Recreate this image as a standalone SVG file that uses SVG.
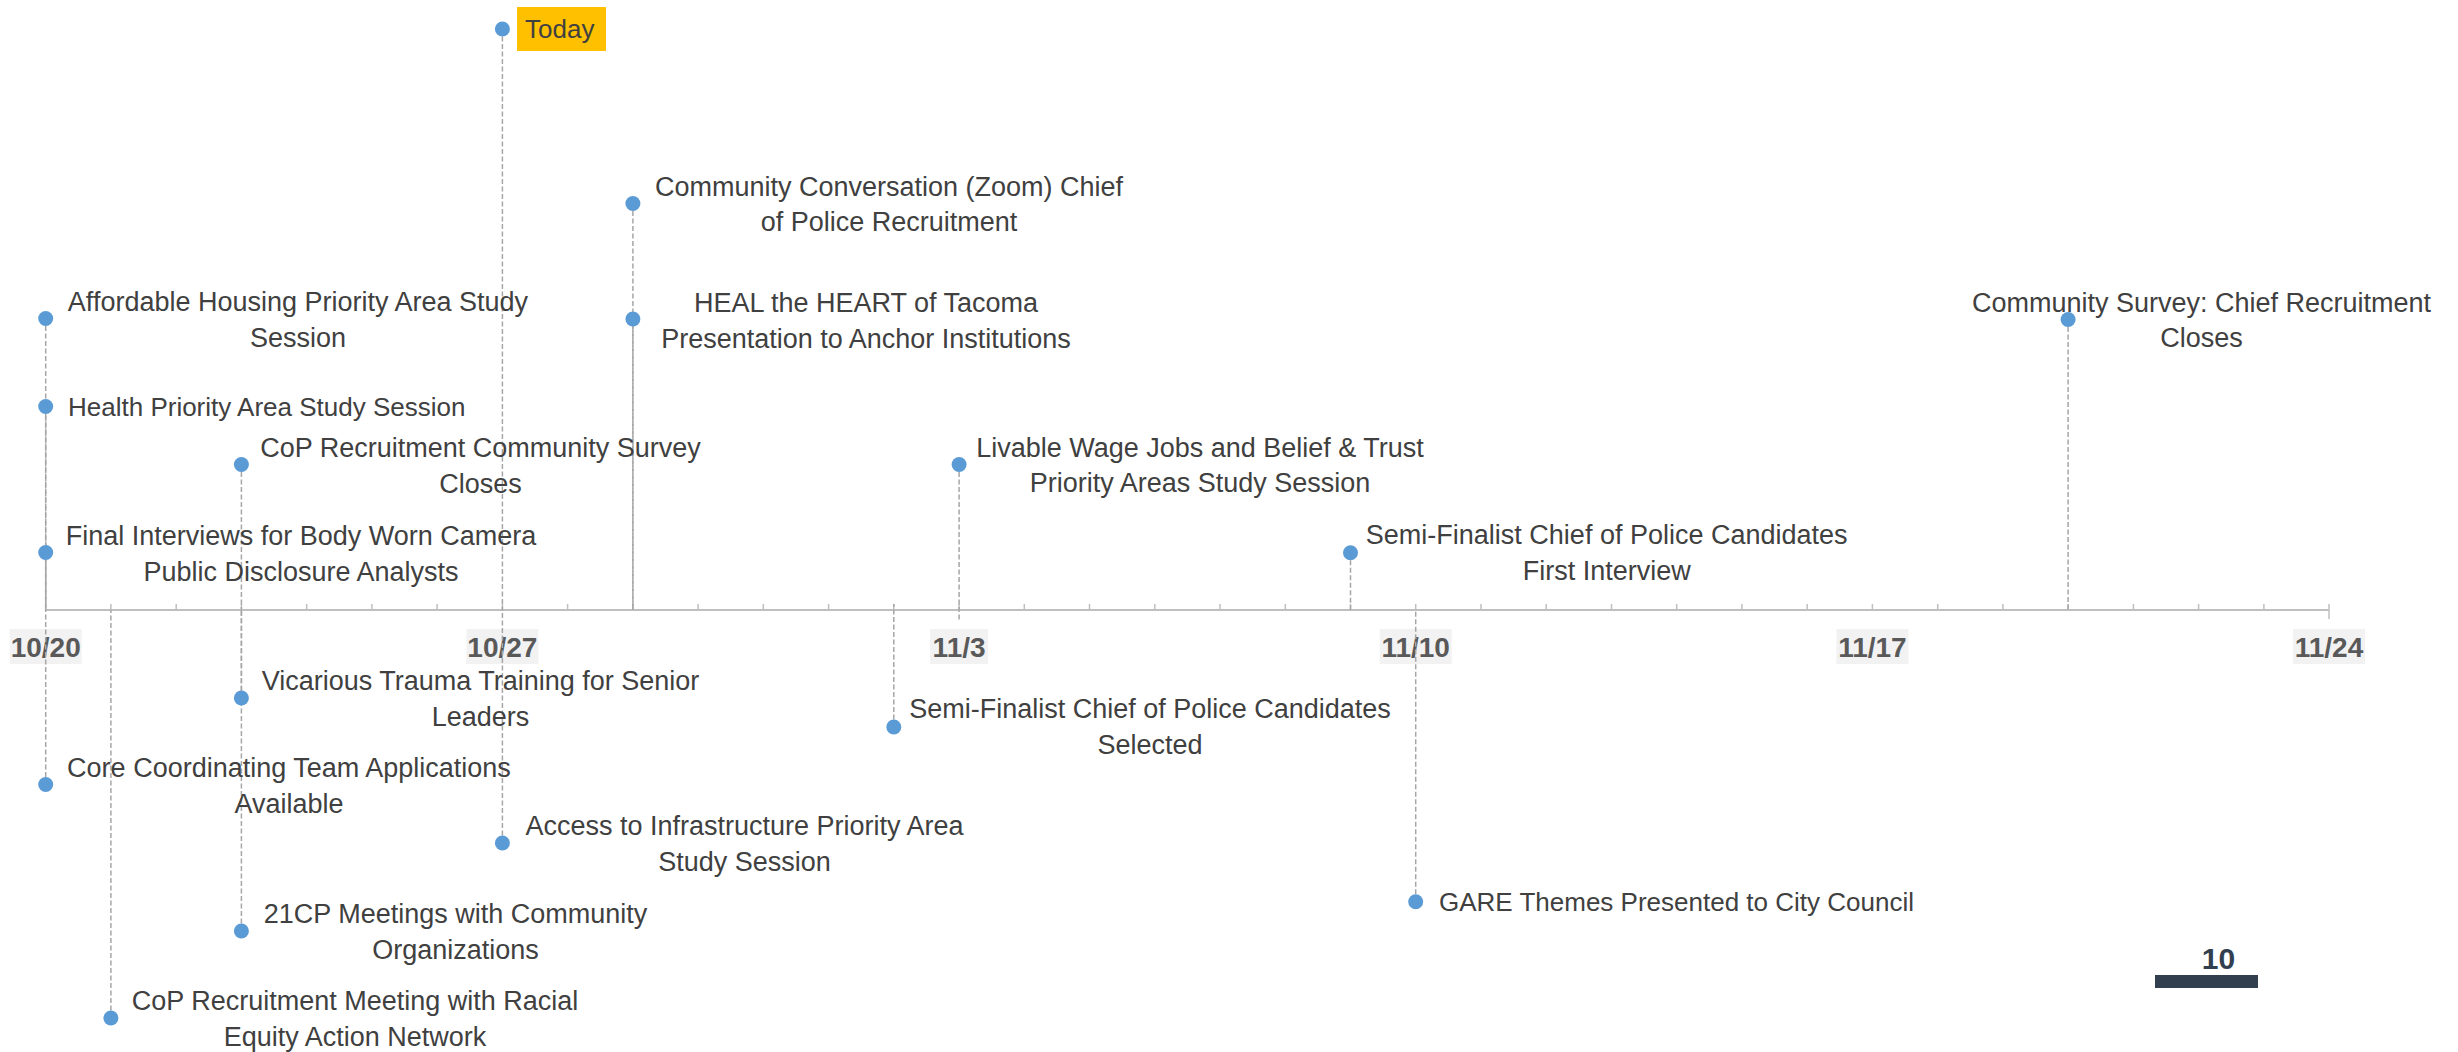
<svg xmlns="http://www.w3.org/2000/svg" width="2458" height="1052" viewBox="0 0 2458 1052">
<style>
  .lbl { font-family: "Liberation Sans", Arial, sans-serif; font-size: 27px; fill: #404040; }
  .sm { font-size: 26px; }
  .mid { text-anchor: middle; }
  .date { font-family: "Liberation Sans", Arial, sans-serif; font-size: 28px; font-weight: bold; fill: #595959; text-anchor: middle; }
  .datebg { fill: #F2F2F2; }
  .dot { fill: #5B9BD5; }
  .lead { stroke: #A6A6A6; stroke-width: 1.5; stroke-dasharray: 5 2.5; fill: none; }
  .axis { stroke: #BFBFBF; stroke-width: 2; fill: none; }
  .tick { stroke: #BFBFBF; stroke-width: 1.5; }
</style>
<rect width="2458" height="1052" fill="#FFFFFF"/>

<g id="axis">
  <line class="axis" x1="45.7" y1="610" x2="2329" y2="610"/>
  <g class="tick">
    <line x1="110.9" y1="604" x2="110.9" y2="610"/>
    <line x1="176.2" y1="604" x2="176.2" y2="610"/>
    <line x1="241.4" y1="604" x2="241.4" y2="610"/>
    <line x1="306.7" y1="604" x2="306.7" y2="610"/>
    <line x1="371.9" y1="604" x2="371.9" y2="610"/>
    <line x1="437.1" y1="604" x2="437.1" y2="610"/>
    <line x1="502.4" y1="604" x2="502.4" y2="610"/>
    <line x1="567.6" y1="604" x2="567.6" y2="610"/>
    <line x1="632.9" y1="604" x2="632.9" y2="610"/>
    <line x1="698.1" y1="604" x2="698.1" y2="610"/>
    <line x1="763.3" y1="604" x2="763.3" y2="610"/>
    <line x1="828.6" y1="604" x2="828.6" y2="610"/>
    <line x1="893.8" y1="604" x2="893.8" y2="610"/>
    <line x1="959.1" y1="604" x2="959.1" y2="610"/>
    <line x1="1024.3" y1="604" x2="1024.3" y2="610"/>
    <line x1="1089.5" y1="604" x2="1089.5" y2="610"/>
    <line x1="1154.8" y1="604" x2="1154.8" y2="610"/>
    <line x1="1220.0" y1="604" x2="1220.0" y2="610"/>
    <line x1="1285.3" y1="604" x2="1285.3" y2="610"/>
    <line x1="1350.5" y1="604" x2="1350.5" y2="610"/>
    <line x1="1415.7" y1="604" x2="1415.7" y2="610"/>
    <line x1="1481.0" y1="604" x2="1481.0" y2="610"/>
    <line x1="1546.2" y1="604" x2="1546.2" y2="610"/>
    <line x1="1611.5" y1="604" x2="1611.5" y2="610"/>
    <line x1="1676.7" y1="604" x2="1676.7" y2="610"/>
    <line x1="1741.9" y1="604" x2="1741.9" y2="610"/>
    <line x1="1807.2" y1="604" x2="1807.2" y2="610"/>
    <line x1="1872.4" y1="604" x2="1872.4" y2="610"/>
    <line x1="1937.7" y1="604" x2="1937.7" y2="610"/>
    <line x1="2002.9" y1="604" x2="2002.9" y2="610"/>
    <line x1="2068.1" y1="604" x2="2068.1" y2="610"/>
    <line x1="2133.4" y1="604" x2="2133.4" y2="610"/>
    <line x1="2198.6" y1="604" x2="2198.6" y2="610"/>
    <line x1="2263.9" y1="604" x2="2263.9" y2="610"/>
    <line x1="2329" y1="604" x2="2329" y2="619"/>
  </g>
  <g id="date-labels">
    <rect class="datebg" x="9.7" y="629" width="72" height="35"/>
    <text class="date" x="45.7" y="657">10/20</text>
    <rect class="datebg" x="466.4" y="629" width="72" height="35"/>
    <text class="date" x="502.4" y="657">10/27</text>
    <rect class="datebg" x="930.1" y="629" width="58" height="35"/>
    <text class="date" x="959.1" y="657">11/3</text>
    <rect class="datebg" x="1379.7" y="629" width="72" height="35"/>
    <text class="date" x="1415.7" y="657">11/10</text>
    <rect class="datebg" x="1836.4" y="629" width="72" height="35"/>
    <text class="date" x="1872.4" y="657">11/17</text>
    <rect class="datebg" x="2293" y="629" width="72" height="35"/>
    <text class="date" x="2329" y="657">11/24</text>
  </g>
</g>

<g id="connectors">
  <line class="lead" x1="45.7" y1="318.5" x2="45.7" y2="610"/>
  <line class="lead" x1="45.7" y1="406.5" x2="45.7" y2="610"/>
  <line class="lead" x1="45.7" y1="552.5" x2="45.7" y2="610"/>
  <line class="lead" x1="45.7" y1="784.5" x2="45.7" y2="610"/>
  <line class="lead" x1="110.9" y1="1018" x2="110.9" y2="610"/>
  <line class="lead" x1="241.4" y1="464.5" x2="241.4" y2="610"/>
  <line class="lead" x1="241.4" y1="698" x2="241.4" y2="610"/>
  <line class="lead" x1="241.4" y1="931" x2="241.4" y2="610"/>
  <line class="lead" x1="502.4" y1="29" x2="502.4" y2="610"/>
  <line class="lead" x1="502.4" y1="843" x2="502.4" y2="610"/>
  <line class="lead" x1="632.9" y1="203.5" x2="632.9" y2="610"/>
  <line class="lead" x1="632.9" y1="319" x2="632.9" y2="610"/>
  <line class="lead" x1="893.8" y1="727" x2="893.8" y2="604"/>
  <line class="lead" x1="959.1" y1="464.5" x2="959.1" y2="620"/>
  <line class="lead" x1="1350.5" y1="552.7" x2="1350.5" y2="610"/>
  <line class="lead" x1="1415.7" y1="901.7" x2="1415.7" y2="610"/>
  <line class="lead" x1="2068.1" y1="319.5" x2="2068.1" y2="610"/>
</g>

<g id="ev-affordable-housing">
  <circle class="dot" cx="45.7" cy="318.5" r="7.5"/>
  <text class="lbl mid" x="298" y="311">Affordable Housing Priority Area Study</text>
  <text class="lbl mid" x="298" y="347">Session</text>
</g>
<g id="ev-health">
  <circle class="dot" cx="45.7" cy="406.5" r="7.5"/>
  <text class="lbl sm" x="68" y="416">Health Priority Area Study Session</text>
</g>
<g id="ev-final-interviews">
  <circle class="dot" cx="45.7" cy="552.5" r="7.5"/>
  <text class="lbl mid" x="301" y="545">Final Interviews for Body Worn Camera</text>
  <text class="lbl mid" x="301" y="581">Public Disclosure Analysts</text>
</g>
<g id="ev-core-team">
  <circle class="dot" cx="45.7" cy="784.5" r="7.5"/>
  <text class="lbl mid" x="289" y="777">Core Coordinating Team Applications</text>
  <text class="lbl mid" x="289" y="813">Available</text>
</g>
<g id="ev-cop-racial-equity">
  <circle class="dot" cx="110.9" cy="1018" r="7.5"/>
  <text class="lbl mid" x="355" y="1010">CoP Recruitment Meeting with Racial</text>
  <text class="lbl mid" x="355" y="1046">Equity Action Network</text>
</g>
<g id="ev-cop-survey-closes">
  <circle class="dot" cx="241.4" cy="464.5" r="7.5"/>
  <text class="lbl mid" x="480.5" y="457">CoP Recruitment Community Survey</text>
  <text class="lbl mid" x="480.5" y="493">Closes</text>
</g>
<g id="ev-vicarious-trauma">
  <circle class="dot" cx="241.4" cy="698" r="7.5"/>
  <text class="lbl mid" x="480.5" y="690">Vicarious Trauma Training for Senior</text>
  <text class="lbl mid" x="480.5" y="726">Leaders</text>
</g>
<g id="ev-21cp">
  <circle class="dot" cx="241.4" cy="931" r="7.5"/>
  <text class="lbl mid" x="455.5" y="923">21CP Meetings with Community</text>
  <text class="lbl mid" x="455.5" y="959">Organizations</text>
</g>
<g id="ev-today">
  <circle class="dot" cx="502.4" cy="29" r="7.5"/>
  <rect x="517" y="7" width="89" height="44" fill="#FFC000"/>
  <text class="lbl sm" x="525" y="38">Today</text>
</g>
<g id="ev-access-infrastructure">
  <circle class="dot" cx="502.4" cy="843" r="7.5"/>
  <text class="lbl mid" x="744.5" y="835">Access to Infrastructure Priority Area</text>
  <text class="lbl mid" x="744.5" y="871">Study Session</text>
</g>
<g id="ev-community-conversation">
  <circle class="dot" cx="632.9" cy="203.5" r="7.5"/>
  <text class="lbl mid" x="889" y="195.5">Community Conversation (Zoom) Chief</text>
  <text class="lbl mid" x="889" y="231">of Police Recruitment</text>
</g>
<g id="ev-heal-heart">
  <circle class="dot" cx="632.9" cy="319" r="7.5"/>
  <text class="lbl mid" x="866" y="312">HEAL the HEART of Tacoma</text>
  <text class="lbl mid" x="866" y="348">Presentation to Anchor Institutions</text>
</g>
<g id="ev-semifinalist-selected">
  <circle class="dot" cx="893.8" cy="727" r="7.5"/>
  <text class="lbl mid" x="1150" y="718">Semi-Finalist Chief of Police Candidates</text>
  <text class="lbl mid" x="1150" y="754">Selected</text>
</g>
<g id="ev-livable-wage">
  <circle class="dot" cx="959.1" cy="464.5" r="7.5"/>
  <text class="lbl mid" x="1200" y="456.5">Livable Wage Jobs and Belief &amp; Trust</text>
  <text class="lbl mid" x="1200" y="492">Priority Areas Study Session</text>
</g>
<g id="ev-semifinalist-interview">
  <circle class="dot" cx="1350.5" cy="552.7" r="7.5"/>
  <text class="lbl mid" x="1606.7" y="544">Semi-Finalist Chief of Police Candidates</text>
  <text class="lbl mid" x="1606.7" y="580">First Interview</text>
</g>
<g id="ev-gare">
  <circle class="dot" cx="1415.7" cy="901.7" r="7.5"/>
  <text class="lbl sm" x="1439" y="910.5">GARE Themes Presented to City Council</text>
</g>
<g id="ev-community-survey">
  <circle class="dot" cx="2068.1" cy="319.5" r="7.5"/>
  <text class="lbl mid" x="2201.5" y="311.7">Community Survey: Chief Recruitment</text>
  <text class="lbl mid" x="2201.5" y="347">Closes</text>
</g>

<g id="page-number">
  <text x="2218.5" y="969" font-family="&quot;Liberation Sans&quot;, Arial, sans-serif" font-size="30" font-weight="bold" fill="#323F4F" text-anchor="middle">10</text>
  <rect x="2155" y="975" width="103" height="13" fill="#323F4F"/>
</g>
</svg>
